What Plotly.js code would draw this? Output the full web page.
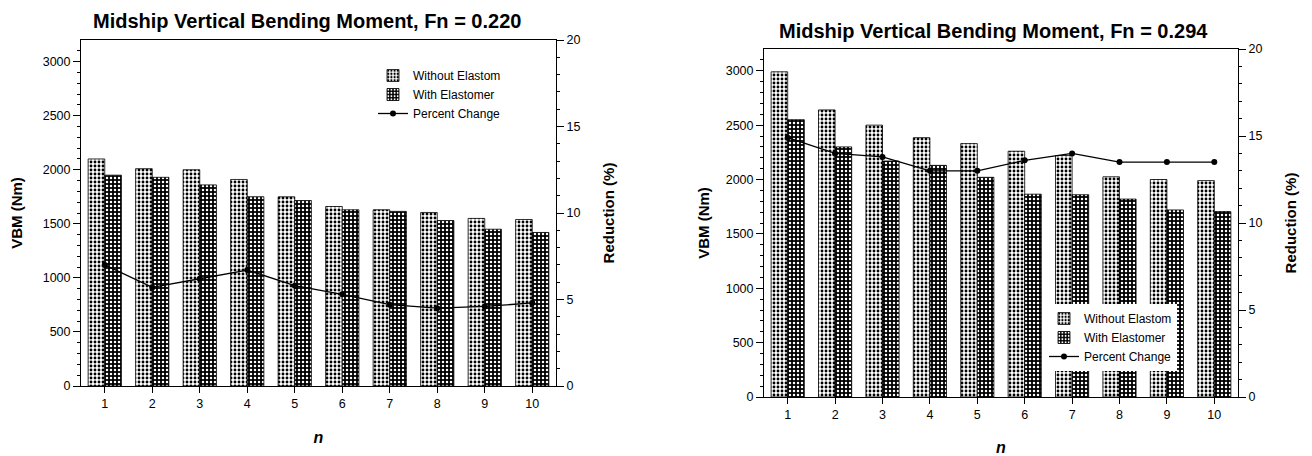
<!DOCTYPE html>
<html>
<head>
<meta charset="utf-8">
<script src="https://cdn.plot.ly/plotly-3.0.1.min.js"></script>
<style>html,body{margin:0;padding:0;background:#fff;}#chart{width:1312px;height:456px;}</style>
</head>
<body>
<div id="chart"></div>
<script>
// ---- data ----
const n = [1, 2, 3, 4, 5, 6, 7, 8, 9, 10];
const tickLabels = ['1', '2', '3', '4', '5', '6', '7', '8', '9', '10'];

const titleFn220 = 'Midship Vertical Bending Moment, Fn = 0.220';
const fn220Without = [2100, 2010, 2000, 1910, 1750, 1660, 1630, 1605, 1550, 1540];
const fn220With    = [1950, 1930, 1860, 1750, 1715, 1630, 1615, 1530, 1450, 1420];
const fn220Pct     = [7.0, 5.7, 6.2, 6.7, 5.8, 5.3, 4.7, 4.5, 4.6, 4.8];

const titleFn294 = 'Midship Vertical Bending Moment, Fn = 0.294';
const fn294Without = [2990, 2640, 2500, 2385, 2330, 2260, 2220, 2025, 2000, 1990];
const fn294With    = [2550, 2300, 2170, 2130, 2020, 1865, 1860, 1820, 1720, 1705];
const fn294Pct     = [14.9, 14.0, 13.8, 13.0, 13.0, 13.6, 14.0, 13.5, 13.5, 13.5];

const nameWithout = 'Without Elastom';
const nameWith = 'With Elastomer';
const namePct = 'Percent Change';

// ---- styles ----
const FONT = 'Liberation Sans, Arial, Helvetica, sans-serif';
const lightPattern = {shape: '.', fgcolor: '#000', bgcolor: '#fff', size: 4, solidity: 0.4};
const darkPattern  = {shape: '.', fgcolor: '#fff', bgcolor: '#000', size: 4, solidity: 0.3};

function barTrace(y, name, pattern, xa, ya, legend) {
  return {
    type: 'bar', x: n, y: y, name: name, xaxis: xa, yaxis: ya, legend: legend,
    marker: {color: pattern.bgcolor, pattern: pattern, line: {color: '#000', width: 0.8}}
  };
}
function lineTrace(y, xa, ya, legend) {
  return {
    type: 'scatter', mode: 'lines+markers', x: n, y: y, name: namePct,
    xaxis: xa, yaxis: ya, legend: legend,
    line: {color: '#000', width: 1.3}, marker: {color: '#000', size: 6, symbol: 'circle'}
  };
}

const traces = [
  barTrace(fn220Without, nameWithout, lightPattern, 'x', 'y', 'legend'),
  barTrace(fn220With, nameWith, darkPattern, 'x', 'y', 'legend'),
  lineTrace(fn220Pct, 'x', 'y2', 'legend'),
  barTrace(fn294Without, nameWithout, lightPattern, 'x2', 'y3', 'legend2'),
  barTrace(fn294With, nameWith, darkPattern, 'x2', 'y3', 'legend2'),
  lineTrace(fn294Pct, 'x2', 'y4', 'legend2')
];

const W = 1312, H = 456;
function xdom(a, b) { return [a / W, b / W]; }
function ydom(bottom, top) { return [1 - bottom / H, 1 - top / H]; }

const tickFont = {family: FONT, size: 12.5, color: '#000'};
const axTitleFont = {family: FONT, size: 15, color: '#000', weight: 'bold'};

function xAxis(dom, anchor) {
  return {
    domain: dom, anchor: anchor, range: [0.5, 10.5], tickvals: n, ticktext: tickLabels,
    ticks: 'outside', ticklen: 6, tickcolor: '#000', showline: true, linecolor: '#000',
    linewidth: 1, mirror: true, showgrid: false, zeroline: false, tickfont: tickFont,
    title: {text: '<b><i>n</i></b>', font: {family: FONT, size: 16, color: '#000'}, standoff: 21},
    fixedrange: true
  };
}
function yLeft(dom, anchor, standoff) {
  return {
    domain: dom, anchor: anchor, range: [0, 3200], tickvals: [0, 500, 1000, 1500, 2000, 2500, 3000],
    ticks: 'outside', ticklen: 7, tickcolor: '#000', showline: true, linecolor: '#000', linewidth: 1,
    minor: {tickvals: [100,200,300,400,600,700,800,900,1100,1200,1300,1400,1600,1700,1800,1900,2100,2200,2300,2400,2600,2700,2800,2900,3100], ticks: 'outside', ticklen: 3, tickcolor: '#000'},
    showgrid: false, zeroline: false, tickfont: tickFont,
    title: {text: 'VBM (Nm)', font: axTitleFont, standoff: standoff}, fixedrange: true
  };
}
function yRight(overlay, anchor) {
  return {
    overlaying: overlay, anchor: anchor, side: 'right', range: [0, 20], tickvals: [0, 5, 10, 15, 20],
    ticks: 'outside', ticklen: 7, tickcolor: '#000', showline: true, linecolor: '#000', linewidth: 1,
    minor: {dtick: 1, ticks: 'outside', ticklen: 3, tickcolor: '#000'},
    showgrid: false, zeroline: false, tickfont: tickFont,
    title: {text: 'Reduction (%)', font: axTitleFont, standoff: 24}, fixedrange: true
  };
}

const layout = {
  width: W, height: H, margin: {l: 0, r: 0, t: 0, b: 0},
  paper_bgcolor: '#fff', plot_bgcolor: 'rgba(0,0,0,0)',
  font: {family: FONT, color: '#000'},
  barmode: 'group', bargap: 0.3, bargroupgap: 0,
  xaxis: xAxis(xdom(81, 556), 'y'),
  yaxis: yLeft(ydom(386, 40), 'x', 16),
  yaxis2: yRight('y', 'x'),
  xaxis2: xAxis(xdom(764, 1238), 'y3'),
  yaxis3: yLeft(ydom(397, 49), 'x2', 12),
  yaxis4: yRight('y3', 'x2'),
  legend: {x: 373 / W, y: 1 - 61 / H, xanchor: 'left', yanchor: 'top', bgcolor: 'rgba(255,255,255,0)',
           font: {family: FONT, size: 12, color: '#000'}, tracegroupgap: 0, traceorder: 'normal'},
  legend2: {x: 1044 / W, y: 1 - 304 / H, xanchor: 'left', yanchor: 'top', bgcolor: '#fff',
            font: {family: FONT, size: 12, color: '#000'}, tracegroupgap: 0, traceorder: 'normal'},
  annotations: [
    {text: titleFn220, xref: 'paper', yref: 'paper', x: 307 / W, y: 1 - 21 / H, xanchor: 'center', yanchor: 'middle',
     showarrow: false, font: {family: FONT, size: 20, color: '#000', weight: 'bold'}},
    {text: titleFn294, xref: 'paper', yref: 'paper', x: 993 / W, y: 1 - 31 / H, xanchor: 'center', yanchor: 'middle',
     showarrow: false, font: {family: FONT, size: 20, color: '#000', weight: 'bold'}}
  ],
  showlegend: true
};

Plotly.newPlot('chart', traces, layout, {staticPlot: true, displayModeBar: false});
</script>
</body>
</html>
